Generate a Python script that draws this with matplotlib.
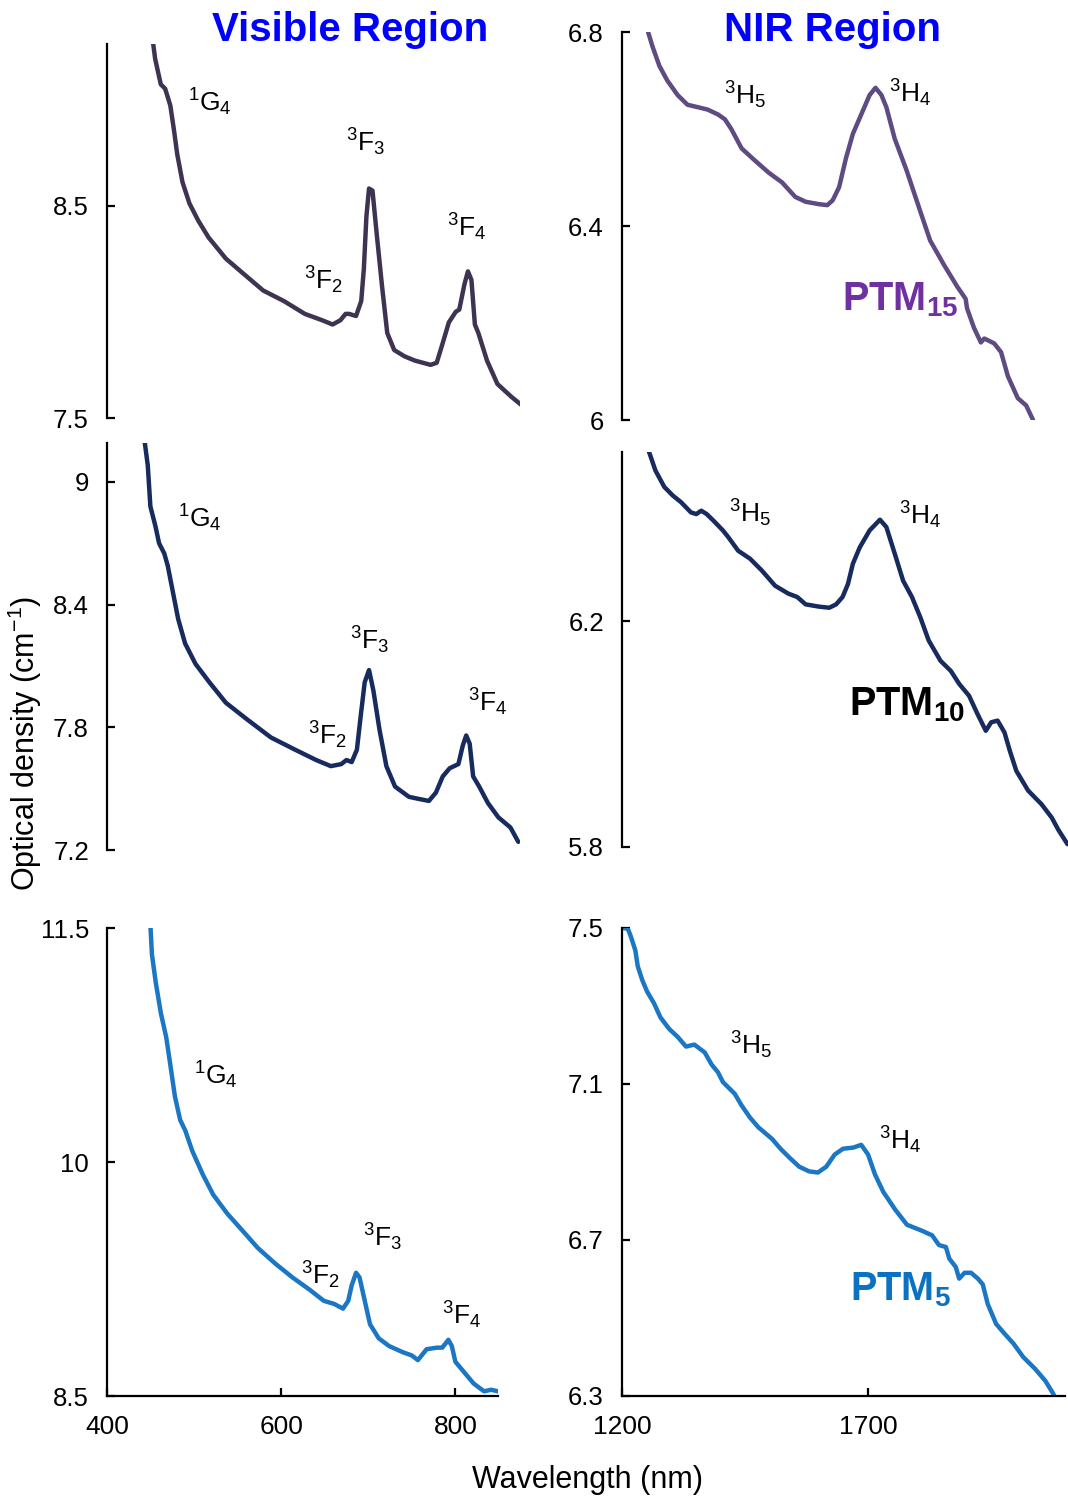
import matplotlib
matplotlib.use("Agg")
import matplotlib.pyplot as plt

plt.rcParams['font.family'] = ['Liberation Sans', 'DejaVu Sans']
plt.rcParams['mathtext.fontset'] = 'custom'
plt.rcParams['mathtext.rm'] = 'Liberation Sans'
plt.rcParams['mathtext.it'] = 'Liberation Sans:italic'
plt.rcParams['mathtext.bf'] = 'Liberation Sans:bold'

# ---- data ----
vis15_wl = [452, 455.5, 462, 467, 473, 477, 481, 487, 495, 505, 517, 537, 557, 580, 604, 628, 648, 660,
            669, 675, 679, 687, 693, 696, 699, 702, 706, 711, 717, 723, 731, 743, 755, 773, 780, 786,
            794, 802, 806, 812, 816, 820, 824, 828, 838, 850, 866, 878]
vis15_od = [9.30, 9.19, 9.07, 9.05, 8.97, 8.86, 8.74, 8.61, 8.51, 8.43, 8.35, 8.25, 8.18, 8.10, 8.05, 7.99,
            7.96, 7.94, 7.96, 7.99, 7.99, 7.98, 8.05, 8.20, 8.45, 8.58, 8.57, 8.36, 8.12, 7.90, 7.82, 7.79,
            7.77, 7.75, 7.76, 7.84, 7.95, 8.00, 8.01, 8.13, 8.19, 8.15, 7.94, 7.90, 7.77, 7.66, 7.60, 7.56]

nir15_wl = [1253, 1262, 1276, 1292, 1313, 1333, 1354, 1374, 1395, 1409, 1422, 1443, 1470, 1498, 1525, 1552,
            1573, 1600, 1617, 1628, 1641, 1655, 1669, 1686, 1703, 1715, 1727, 1737, 1754, 1778, 1806, 1826,
            1854, 1881, 1898, 1901, 1915, 1929, 1936, 1956, 1970, 1984, 2004, 2021, 2035]
nir15_od = [6.80, 6.77, 6.73, 6.70, 6.67, 6.65, 6.645, 6.64, 6.63, 6.62, 6.60, 6.56, 6.535, 6.51, 6.49, 6.46,
            6.45, 6.445, 6.443, 6.453, 6.48, 6.54, 6.59, 6.63, 6.67, 6.685, 6.67, 6.645, 6.58, 6.515, 6.43,
            6.37, 6.32, 6.275, 6.25, 6.23, 6.19, 6.16, 6.168, 6.158, 6.14, 6.09, 6.045, 6.03, 6.0]

vis10_wl = [443, 447, 450, 456, 460, 466, 470, 476, 482, 490, 502, 518, 537, 561, 589, 617, 641, 658, 670,
            676, 682, 688, 692, 697, 702, 707, 714, 722, 732, 748, 759, 771, 779, 787, 795, 805, 810, 814,
            818, 822, 829, 839, 851, 865, 874]
vis10_od = [9.21, 9.08, 8.88, 8.78, 8.70, 8.65, 8.59, 8.46, 8.33, 8.21, 8.11, 8.02, 7.92, 7.84, 7.75, 7.69,
            7.64, 7.61, 7.62, 7.64, 7.63, 7.69, 7.84, 8.02, 8.08, 7.98, 7.79, 7.61, 7.51, 7.46, 7.45, 7.44,
            7.48, 7.56, 7.60, 7.62, 7.71, 7.76, 7.72, 7.56, 7.51, 7.43, 7.36, 7.31, 7.24]

nir10_wl = [1255, 1268, 1286, 1303, 1320, 1340, 1351, 1361, 1372, 1385, 1405, 1416, 1436, 1460, 1484, 1511,
            1538, 1556, 1573, 1600, 1621, 1635, 1648, 1659, 1669, 1683, 1703, 1724, 1737, 1754, 1771, 1789,
            1806, 1823, 1847, 1868, 1885, 1905, 1922, 1939, 1950, 1963, 1977, 1988, 2001, 2025, 2052, 2073,
            2086, 2105]
nir10_od = [6.50, 6.467, 6.438, 6.423, 6.411, 6.393, 6.39, 6.396, 6.39, 6.379, 6.361, 6.349, 6.325, 6.311,
            6.29, 6.263, 6.249, 6.243, 6.23, 6.226, 6.224, 6.23, 6.243, 6.266, 6.302, 6.331, 6.361, 6.38,
            6.367, 6.32, 6.272, 6.243, 6.207, 6.166, 6.13, 6.112, 6.089, 6.068, 6.036, 6.006, 6.021, 6.024,
            6.003, 5.97, 5.935, 5.90, 5.876, 5.852, 5.831, 5.805]

vis5_wl = [450, 451.6, 456, 462, 468, 472, 478, 484, 490, 498, 510, 522, 538, 554, 573, 593, 613, 633, 649,
           661, 671, 677, 681, 686, 690, 696, 702, 712, 724, 740, 750, 757, 767, 779, 785, 792, 796, 800,
           809, 821, 833, 841, 849]
vis5_od = [11.5, 11.33, 11.15, 10.95, 10.80, 10.65, 10.42, 10.27, 10.20, 10.07, 9.92, 9.79, 9.67, 9.57,
           9.45, 9.35, 9.26, 9.18, 9.11, 9.09, 9.06, 9.11, 9.21, 9.29, 9.26, 9.11, 8.96, 8.87, 8.82, 8.78,
           8.76, 8.73, 8.80, 8.81, 8.81, 8.86, 8.82, 8.72, 8.66, 8.58, 8.53, 8.54, 8.53]

nir5_wl = [1202, 1212, 1218, 1227, 1232, 1241, 1251, 1265, 1278, 1296, 1313, 1330, 1347, 1368, 1382, 1395,
           1405, 1429, 1443, 1460, 1477, 1505, 1522, 1542, 1560, 1580, 1598, 1615, 1632, 1649, 1670, 1686,
           1700, 1714, 1731, 1755, 1779, 1807, 1830, 1844, 1858, 1865, 1878, 1885, 1896, 1909, 1923, 1933,
           1943, 1960, 1977, 1995, 2015, 2039, 2060, 2077]
nir5_od = [7.50, 7.498, 7.478, 7.443, 7.402, 7.367, 7.337, 7.307, 7.271, 7.241, 7.221, 7.196, 7.201, 7.181,
           7.15, 7.13, 7.105, 7.075, 7.045, 7.014, 6.989, 6.959, 6.934, 6.909, 6.888, 6.876, 6.873, 6.888,
           6.919, 6.934, 6.937, 6.944, 6.919, 6.868, 6.823, 6.778, 6.739, 6.725, 6.712, 6.687, 6.682, 6.652,
           6.631, 6.601, 6.616, 6.616, 6.601, 6.586, 6.536, 6.485, 6.46, 6.435, 6.40, 6.37, 6.339, 6.304]

W, H = 1068, 1497
fig = plt.figure(figsize=(W / 100, H / 100), dpi=100)


def box(x0, y0, x1, y1):
    # pixel box (top-left origin) -> figure fraction rect
    return [x0 / W, 1 - y1 / H, (x1 - x0) / W, (y1 - y0) / H]


def px(x, y):
    return x / W, 1 - y / H


def style(ax, bottom=False):
    for s in ['top', 'right']:
        ax.spines[s].set_visible(False)
    ax.spines['bottom'].set_visible(bottom)
    ax.spines['left'].set_linewidth(1.6)
    ax.spines['bottom'].set_linewidth(1.6)
    ax.tick_params(axis='y', direction='in', length=6, width=1.6, labelsize=18.5, pad=13)
    if bottom:
        ax.tick_params(axis='x', direction='in', length=6, width=1.6, labelsize=19, pad=14)
    else:
        ax.set_xticks([])
    ax.patch.set_alpha(0)


panels = [
    # rect, xlim, ylim, yticks, ylabels, x, y, color, bottom
    (box(107, 44, 520, 418), (400, 876), (7.5, 9.26), [7.5, 8.5], ['7.5', '8.5'], vis15_wl, vis15_od, '#3f3352', False),
    (box(622, 32, 1068, 420), (1200, 2106), (6.0, 6.8), [6.0, 6.4, 6.8], ['6', '6.4', '6.8'], nir15_wl, nir15_od, '#5e4b82', False),
    (box(107, 443, 520, 850), (400, 876), (7.2, 9.19), [7.2, 7.8, 8.4, 9.0], ['7.2', '7.8', '8.4', '9'], vis10_wl, vis10_od, '#182b5e', False),
    (box(622, 452, 1068, 847), (1200, 2106), (5.8, 6.5), [5.8, 6.2], ['5.8', '6.2'], nir10_wl, nir10_od, '#182b5e', False),
    (box(107, 928, 498, 1396), (400, 849), (8.5, 11.5), [8.5, 10, 11.5], ['8.5', '10', '11.5'], vis5_wl, vis5_od, '#1b77c4', True),
    (box(622, 928, 1065, 1396), (1200, 2100), (6.3, 7.5), [6.3, 6.7, 7.1, 7.5], ['6.3', '6.7', '7.1', '7.5'], nir5_wl, nir5_od, '#1b77c4', True),
]

axes = []
for rect, xl, yl, yt, ylab, x, y, c, bottom in panels:
    ax = fig.add_axes(rect)
    ax.plot(x, y, color=c, lw=3.2, solid_capstyle='round', solid_joinstyle='round')
    ax.set_xlim(*xl)
    ax.set_ylim(*yl)
    ax.set_yticks(yt)
    ax.set_yticklabels(ylab)
    style(ax, bottom)
    axes.append(ax)

axes[4].set_xticks([400, 600, 800])
axes[5].set_xticks([1200, 1700])

# level annotations
tk = dict(fontsize=19, ha='center', va='center', color='black')
labels = [
    (210, 102, r'$^{1}$G$_{4}$'), (366, 142, r'$^{3}$F$_{3}$'), (323, 280, r'$^{3}$F$_{2}$'), (467, 227, r'$^{3}$F$_{4}$'),
    (745, 95, r'$^{3}$H$_{5}$'), (910, 93, r'$^{3}$H$_{4}$'),
    (200, 518, r'$^{1}$G$_{4}$'), (370, 640, r'$^{3}$F$_{3}$'), (327, 735, r'$^{3}$F$_{2}$'), (488, 702, r'$^{3}$F$_{4}$'),
    (750, 513, r'$^{3}$H$_{5}$'), (920, 515, r'$^{3}$H$_{4}$'),
    (216, 1075, r'$^{1}$G$_{4}$'), (383, 1237, r'$^{3}$F$_{3}$'), (320, 1275, r'$^{3}$F$_{2}$'), (462, 1315, r'$^{3}$F$_{4}$'),
    (751, 1045, r'$^{3}$H$_{5}$'), (900, 1140, r'$^{3}$H$_{4}$'),
]
for x, y, s in labels:
    fig.text(*px(x, y), s, **tk)

fig.text(*px(900, 300), r'$\mathbf{PTM_{15}}$', fontsize=28.5, color='#7030a0', ha='center', va='center')
fig.text(*px(907, 705), r'$\mathbf{PTM_{10}}$', fontsize=28.5, color='black', ha='center', va='center')
fig.text(*px(900, 1290), r'$\mathbf{PTM_{5}}$', fontsize=28.5, color='#0a72c0', ha='center', va='center')

fig.text(*px(350, 30), 'Visible Region', fontsize=29, fontweight='bold', color='#0000ff', ha='center', va='center')
fig.text(*px(832, 30), 'NIR Region', fontsize=29, fontweight='bold', color='#0000ff', ha='center', va='center')

fig.text(*px(25, 743), r'Optical density (cm$^{-1}$)', fontsize=22, rotation=90, ha='center', va='center')
fig.text(*px(587, 1480), 'Wavelength (nm)', fontsize=22, ha='center', va='center')

fig.savefig('out.png', dpi=100)
